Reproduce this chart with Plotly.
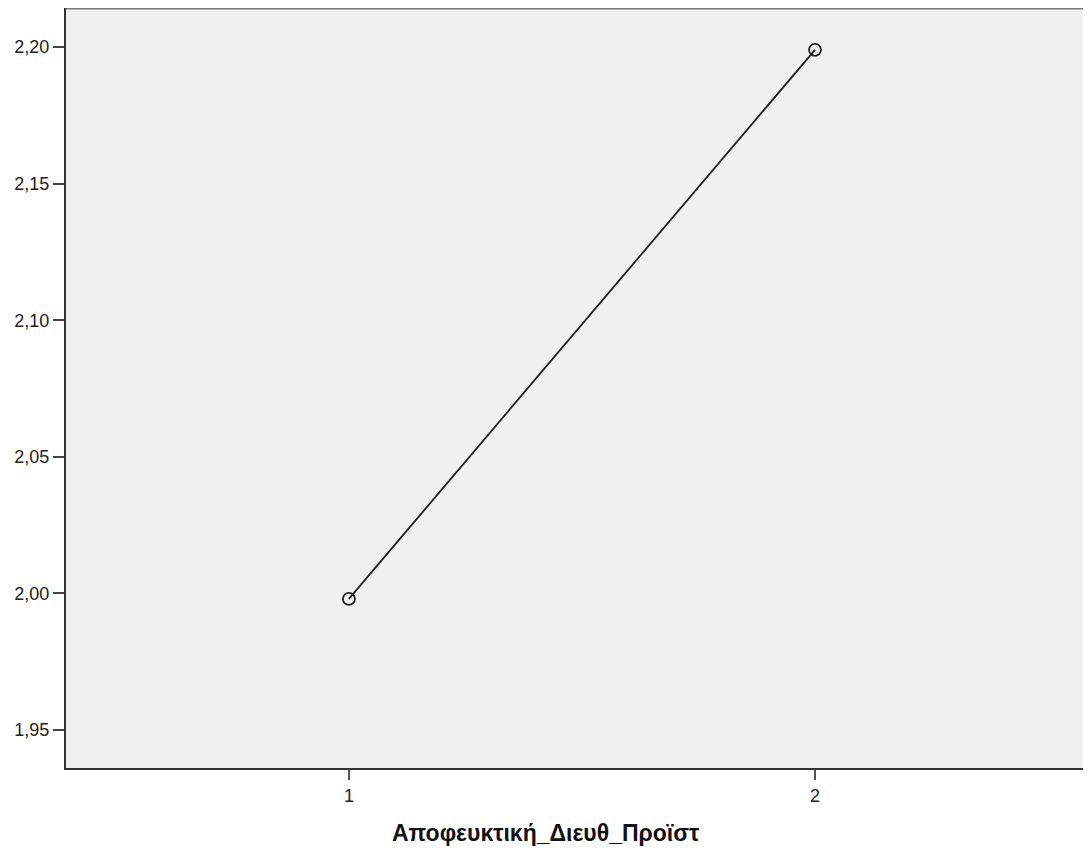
import plotly.graph_objects as go

categories = [1, 2]
means = [1.998, 2.199]
y_ticks = [1.95, 2.00, 2.05, 2.10, 2.15, 2.20]
x_title = "Αποφευκτική_Διευθ_Προϊστ"

fig = go.Figure()
fig.add_trace(go.Scatter(
    x=categories, y=means, mode="lines+markers",
    line=dict(color="#1e1e1e", width=1.8),
    marker=dict(symbol="circle-open", size=12, color="#1e1e1e", line=dict(width=1.8)),
    showlegend=False,
))

# top border (grey)
fig.add_shape(type="line", xref="paper", yref="paper", x0=0, x1=1, y0=1, y1=1,
              line=dict(color="#7a7a7a", width=3))

fig.add_annotation(
    text="<b>" + x_title + "</b>", xref="paper", yref="paper",
    x=0.471, y=-0.0855, xanchor="center", yanchor="middle", showarrow=False,
    font=dict(size=23, color="#111", family="Liberation Sans, Arial, sans-serif"),
)

fig.update_layout(
    width=1075, height=841,
    margin=dict(l=58, r=0, t=0, b=81),
    paper_bgcolor="white",
    plot_bgcolor="#f0f0f0",
    separators=",.",
    font=dict(family="Liberation Sans, Arial, sans-serif", size=18, color="#222"),
    xaxis=dict(
        range=[0.393, 2.575], tickvals=categories, ticktext=[str(c) for c in categories],
        showgrid=False, zeroline=False, showline=True, linecolor="#333", linewidth=2,
        ticks="outside", ticklen=10, tickwidth=2, tickcolor="#555",
        tickfont=dict(size=18),
    ),
    yaxis=dict(
        range=[1.9361, 2.2143], tickvals=y_ticks, tickformat=".2f",
        showgrid=False, zeroline=False, showline=True, linecolor="#333", linewidth=2,
        ticks="outside", ticklen=11, tickwidth=2, tickcolor="#444",
        tickfont=dict(size=18),
    ),
)
fig.write_html("out.html")
